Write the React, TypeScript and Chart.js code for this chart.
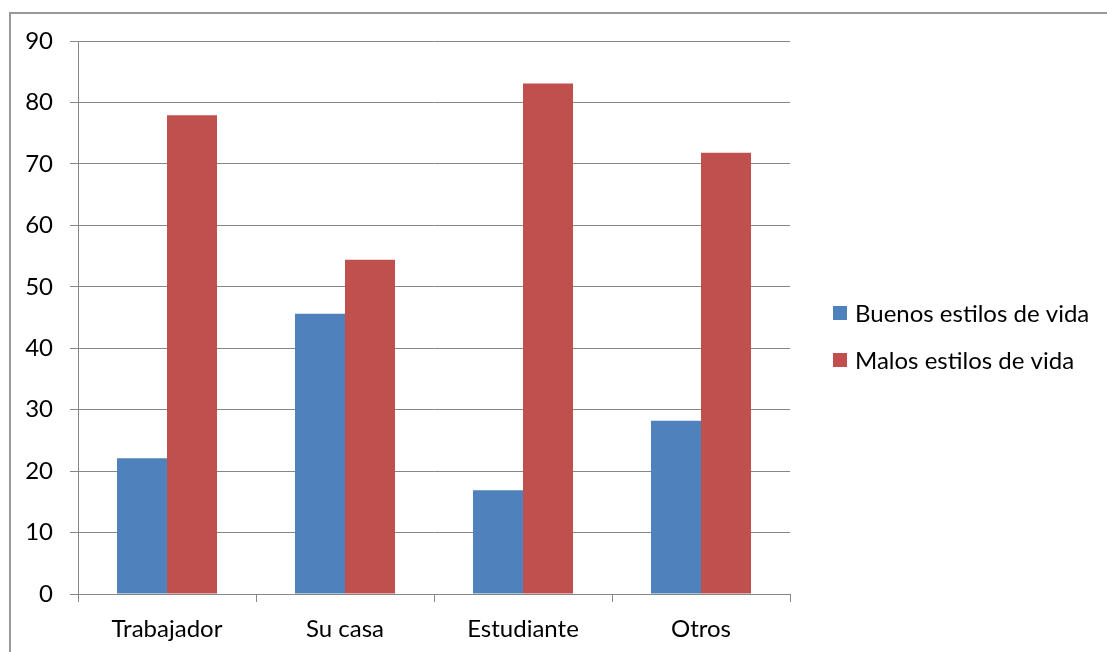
import React, { useEffect, useRef } from "react";
import { Chart, registerables } from "chart.js";

Chart.register(...registerables);

const categories = ["Trabajador", "Su casa", "Estudiante", "Otros"];
const seriesNames = ["Buenos estilos de vida", "Malos estilos de vida"];
const buenos = [22.1, 45.6, 16.9, 28.2];
const malos = [77.9, 54.4, 83.1, 71.8];
const seriesColors = ["#4F81BD", "#C0504D"];
const yTicks = [0, 10, 20, 30, 40, 50, 60, 70, 80, 90];

const FONT = "Lato, 'Open Sans', sans-serif";
const FONT_SIZE = 24;
const AXIS_GRAY = "#878787";

// Legend drawn to the right of the plot, Excel style
const sideLegend = {
  id: "sideLegend",
  afterDraw(chart: any) {
    const ctx = chart.ctx;
    ctx.save();
    ctx.font = `${FONT_SIZE}px ${FONT}`;
    ctx.textBaseline = "middle";
    ctx.textAlign = "left";
    chart.data.datasets.forEach((ds: any, i: number) => {
      const cy = 313 + i * 47;
      ctx.fillStyle = ds.backgroundColor;
      ctx.fillRect(833, cy - 7, 14, 14);
      ctx.fillStyle = "#000";
      ctx.fillText(ds.label, 855, cy + 1);
    });
    ctx.restore();
  },
};

export default function App() {
  const canvasRef = useRef<HTMLCanvasElement | null>(null);

  useEffect(() => {
    if (!canvasRef.current) return;
    const chart = new Chart(canvasRef.current, {
      type: "bar",
      data: {
        labels: categories,
        datasets: [
          { label: seriesNames[0], data: buenos, backgroundColor: seriesColors[0] },
          { label: seriesNames[1], data: malos, backgroundColor: seriesColors[1] },
        ],
      },
      options: {
        animation: false,
        responsive: false,
        maintainAspectRatio: false,
        layout: { padding: { top: 41, right: 317, bottom: 0, left: 0 } },
        datasets: {
          bar: { categoryPercentage: 0.562, barPercentage: 1 },
        },
        plugins: {
          legend: { display: false },
          tooltip: { enabled: false },
        },
        scales: {
          x: {
            grid: {
              offset: true,
              drawOnChartArea: false,
              drawTicks: true,
              tickLength: 8,
              color: AXIS_GRAY,
            },
            border: { color: AXIS_GRAY, width: 1 },
            ticks: {
              color: "#000",
              font: { family: FONT, size: FONT_SIZE },
              padding: 13,
            },
            afterFit(scale: any) {
              scale.height = 58;
            },
          },
          y: {
            min: 0,
            max: 90,
            afterBuildTicks(scale: any) {
              scale.ticks = yTicks.map((v) => ({ value: v }));
            },
            grid: {
              color: AXIS_GRAY,
              tickLength: 8,
              drawTicks: true,
            },
            border: { color: AXIS_GRAY, width: 1 },
            ticks: {
              color: "#000",
              font: { family: FONT, size: FONT_SIZE },
              padding: 17,
            },
            afterFit(scale: any) {
              scale.width = 78;
            },
          },
        },
      },
      plugins: [sideLegend],
    });
    return () => chart.destroy();
  }, []);

  return (
    <div
      style={{
        position: "fixed",
        left: 0,
        top: 0,
        width: 1107,
        height: 652,
        background: "#fff",
        overflow: "hidden",
      }}
    >
      <div
        style={{
          position: "absolute",
          left: 9,
          top: 12,
          width: 1200,
          height: 800,
          border: "2px solid #999",
          boxSizing: "border-box",
        }}
      />
      <canvas
        ref={canvasRef}
        width={1107}
        height={652}
        style={{ position: "absolute", left: 0, top: 0, width: 1107, height: 652 }}
      />
    </div>
  );
}
